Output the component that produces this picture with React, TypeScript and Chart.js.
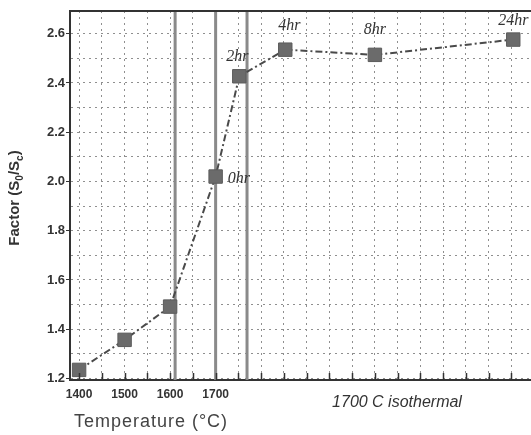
import React, { useEffect, useRef } from 'react';
import { Chart, registerables, LineController } from 'chart.js';

Chart.register(...registerables);

// Keep the plot area flush with the canvas edge (no automatic padding for large markers)
class FlushLineController extends (LineController as any) {
  getMaxOverflow() {
    return 0;
  }
}
(FlushLineController as any).id = 'flushLine';
(FlushLineController as any).defaults = (LineController as any).defaults;
(FlushLineController as any).overrides = (LineController as any).overrides;
Chart.register(FlushLineController as any);

// ---- data ----
const xPositions = [1400, 1500, 1600, 1700, 1752, 1853, 2050, 2354];
const factorValues = [1.235, 1.357, 1.492, 2.02, 2.427, 2.535, 2.514, 2.576];
const pointLabels = ['', '', '', '0hr', '2hr', '4hr', '8hr', '24hr'];
const yTickValues = [1.2, 1.3, 1.4, 1.5, 1.6, 1.7, 1.8, 1.9, 2.0, 2.1, 2.2, 2.3, 2.4, 2.5, 2.6];
const yLabelValues = [1.2, 1.4, 1.6, 1.8, 2.0, 2.2, 2.4, 2.6];
const xTickValues = [1400, 1450, 1500, 1550, 1600, 1650, 1700, 1750, 1800, 1850, 1900, 1950, 2000, 2050, 2100, 2150, 2200, 2250, 2300, 2350];
const xLabelValues = [1400, 1500, 1600, 1700];
const markerLines = [1611, 1700, 1769];
const xTitle = 'Temperature (°C)';
const isoTitle = '1700 C isothermal';

// label placement styles (relative to the point)
const labelStyle: Record<string, { dx: number; dy: number; align: CanvasTextAlign }> = {
  '0hr': { dx: 12, dy: 2, align: 'left' },
  '2hr': { dx: -2, dy: -19, align: 'center' },
  '4hr': { dx: 4, dy: -24, align: 'center' },
  '8hr': { dx: 0, dy: -25, align: 'center' },
  '24hr': { dx: 0, dy: -19, align: 'center' },
};

const decorPlugin = {
  id: 'decor',
  beforeDatasetsDraw(chart: any) {
    const { ctx, chartArea, scales } = chart;
    ctx.save();
    ctx.strokeStyle = '#8a8a8a';
    ctx.lineWidth = 3;
    markerLines.forEach((v) => {
      const x = scales.x.getPixelForValue(v);
      ctx.beginPath();
      ctx.moveTo(x, chartArea.top);
      ctx.lineTo(x, chartArea.bottom);
      ctx.stroke();
    });
    ctx.restore();
  },
  afterDraw(chart: any) {
    const { ctx, chartArea, scales } = chart;
    ctx.save();
    // top border
    ctx.strokeStyle = '#333';
    ctx.lineWidth = 2;
    ctx.beginPath();
    ctx.moveTo(chartArea.left - 1, chartArea.top);
    ctx.lineTo(chartArea.right, chartArea.top);
    ctx.stroke();
    // inward ticks on the bottom axis
    ctx.lineWidth = 1.5;
    xTickValues.forEach((v) => {
      const x = Math.round(scales.x.getPixelForValue(v)) + 0.5;
      ctx.beginPath();
      ctx.moveTo(x, chartArea.bottom - 7);
      ctx.lineTo(x, chartArea.bottom);
      ctx.stroke();
    });
    // point labels
    const meta = chart.getDatasetMeta(0);
    ctx.fillStyle = '#333';
    ctx.font = 'italic 16px "Liberation Serif", "DejaVu Serif", serif';
    ctx.textBaseline = 'middle';
    pointLabels.forEach((lab, i) => {
      if (!lab) return;
      const st = labelStyle[lab];
      const el = meta.data[i];
      ctx.textAlign = st.align;
      ctx.fillText(lab, el.x + st.dx, el.y + st.dy);
    });
    // x titles
    ctx.fillStyle = '#444';
    ctx.textAlign = 'center';
    ctx.font = '18px "Liberation Sans", Arial, sans-serif';
    (ctx as any).letterSpacing = '1px';
    ctx.fillText(xTitle, 151, 422);
    (ctx as any).letterSpacing = '0px';
    ctx.fillStyle = '#333';
    ctx.font = 'italic 16px "Liberation Sans", Arial, sans-serif';
    ctx.fillText(isoTitle, 397, 403);
    // y title with subscripts
    const big = 'bold 15px "Liberation Sans", Arial, sans-serif';
    const small = 'bold 10px "Liberation Sans", Arial, sans-serif';
    const parts: [string, string, number][] = [
      ['Factor (S', big, 0],
      ['0', small, 4],
      ['/S', big, 0],
      ['c', small, 4],
      [')', big, 0],
    ];
    let total = 0;
    const widths = parts.map(([t, f]) => {
      ctx.font = f;
      const w = ctx.measureText(t).width;
      total += w;
      return w;
    });
    ctx.translate(19, 198 + total / 2);
    ctx.rotate(-Math.PI / 2);
    ctx.textAlign = 'left';
    ctx.textBaseline = 'alphabetic';
    ctx.fillStyle = '#333';
    let px = 0;
    parts.forEach(([t, f, dy], i) => {
      ctx.font = f;
      ctx.fillText(t, px, dy);
      px += widths[i];
    });
    ctx.restore();
  },
};

export default function App() {
  const ref = useRef<HTMLCanvasElement>(null);
  useEffect(() => {
    if (!ref.current) return;
    const chart = new Chart(ref.current, {
      type: 'flushLine' as any,
      data: {
        datasets: [
          {
            data: xPositions.map((x, i) => ({ x, y: factorValues[i] })),
            borderColor: '#4a4a4a',
            borderWidth: 2,
            borderDash: [7, 3, 2, 3],
            tension: 0,
            clip: false,
            pointStyle: 'rect',
            pointRadius: 9.5,
            pointBackgroundColor: '#6b6b6b',
            pointBorderColor: '#5c5c5c',
            pointBorderWidth: 1,
          } as any,
        ],
      },
      options: {
        responsive: false,
        animation: false,
        layout: { padding: { top: 11, left: 0, right: 0, bottom: 0 } },
        plugins: { legend: { display: false }, tooltip: { enabled: false } },
        scales: {
          x: {
            type: 'linear',
            min: 1380,
            max: 2393,
            afterBuildTicks: (axis: any) => {
              axis.ticks = xTickValues.map((v) => ({ value: v }));
            },
            afterFit: (axis: any) => {
              axis.height = 55;
              axis.paddingLeft = 0;
              axis.paddingRight = 0;
            },
            ticks: {
              autoSkip: false,
              maxRotation: 0,
              padding: 7,
              color: '#333',
              font: { family: '"Liberation Sans", Arial, sans-serif', size: 12, weight: 'bold' },
              callback: (v: any) => (xLabelValues.includes(Number(v)) ? String(v) : ''),
            },
            grid: {
              color: '#8f8f8f',
              lineWidth: 1,
              drawTicks: false,
            },
            border: { display: true, color: '#333', width: 2, dash: [2, 4] },
          },
          y: {
            type: 'linear',
            min: 1.194,
            max: 2.692,
            afterBuildTicks: (axis: any) => {
              axis.ticks = yTickValues.map((v) => ({ value: v }));
            },
            afterFit: (axis: any) => {
              axis.width = 70;
            },
            ticks: {
              autoSkip: false,
              padding: 1,
              color: '#333',
              font: { family: '"Liberation Sans", Arial, sans-serif', size: 13, weight: 'bold' },
              callback: (v: any) => {
                const n = Number(v);
                return yLabelValues.some((l) => Math.abs(l - n) < 1e-6) ? n.toFixed(1) : '';
              },
            },
            grid: {
              color: '#8f8f8f',
              lineWidth: 1,
              tickLength: 4,
              tickColor: (c: any) =>
                c.tick && yLabelValues.some((l) => Math.abs(l - c.tick.value) < 1e-6) ? '#333' : 'rgba(0,0,0,0)',
            },
            border: { display: true, color: '#333', width: 2, dash: [2, 4] },
          },
        },
      },
      plugins: [decorPlugin],
    });
    return () => chart.destroy();
  }, []);
  return (
    <div style={{ position: 'fixed', left: 0, top: 0, width: 531, height: 435, background: '#fff' }}>
      <canvas ref={ref} width={531} height={435} style={{ display: 'block' }} />
    </div>
  );
}
